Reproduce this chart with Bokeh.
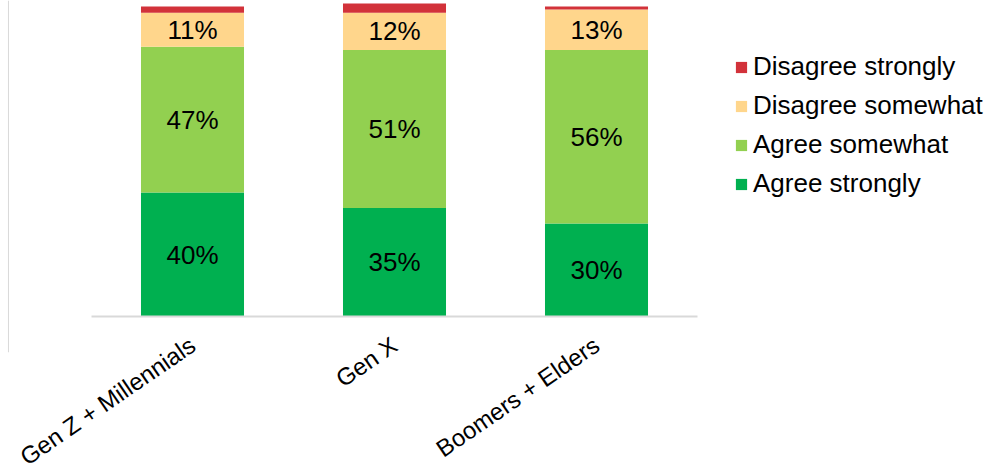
import math
from bokeh.plotting import figure
from bokeh.models import Range1d, Legend, LegendItem, Span, ColumnDataSource, LabelSet, FixedTicker
from bokeh.core.properties import value
from bokeh.embed import file_html
from bokeh.resources import INLINE

categories = ["Gen Z + Millennials", "Gen X", "Boomers + Elders"]
agree_strongly = [40, 35, 30]
agree_somewhat = [47, 51, 56]
disagree_somewhat = [11, 12, 13]
disagree_strongly = [2, 3, 1]
series_keys = ["agree_strongly", "agree_somewhat", "disagree_somewhat", "disagree_strongly"]
series_names = ["Agree strongly", "Agree somewhat", "Disagree somewhat", "Disagree strongly"]
colors = ["#00B050", "#92D050", "#FFD68C", "#D2323A"]

FONT = "Liberation Sans"

idx = list(range(len(categories)))
source = ColumnDataSource(dict(
    x=idx,
    agree_strongly=agree_strongly,
    agree_somewhat=agree_somewhat,
    disagree_somewhat=disagree_somewhat,
    disagree_strongly=disagree_strongly,
))

p = figure(
    x_range=Range1d(-0.9505, 4.0),
    y_range=Range1d(-11.6, 101.94),
    frame_width=1000, frame_height=352,
    min_border_left=0, min_border_top=0, min_border_right=0, min_border_bottom=0,
    output_backend="svg", toolbar_location=None,
)
p.outline_line_color = None
p.xgrid.visible = False
p.ygrid.visible = False
p.yaxis.visible = False

renderers = p.vbar_stack(series_keys, x="x", width=0.51, color=colors, source=source,
                         line_color=None)

# baseline
p.segment(x0=[idx[0] - 0.5], x1=[idx[-1] + 0.5], y0=[0], y1=[0],
          line_color="#D9D9D9", line_width=2)

# left thin line
p.add_layout(Span(location=-0.911, dimension="height", line_color="#D9D9D9", line_width=1))

# value labels
lab_x, lab_y, lab_t = [], [], []
for i in idx:
    base = 0
    for vals in (agree_strongly, agree_somewhat, disagree_somewhat):
        v = vals[i]
        lab_x.append(i)
        lab_y.append(base + v / 2)
        lab_t.append(f"{v}%")
        base += v
lsrc = ColumnDataSource(dict(x=lab_x, y=lab_y, t=lab_t))
p.add_layout(LabelSet(x="x", y="y", text="t", source=lsrc, text_align="center",
                      text_baseline="middle", text_font=value(FONT),
                      text_font_size="26px", text_color="#000000"))

xa = p.xaxis[0]
xa.ticker = FixedTicker(ticks=idx)
xa.major_label_overrides = {i: c for i, c in zip(idx, categories)}
xa.axis_line_color = None
xa.major_tick_line_color = None
xa.minor_tick_line_color = None
xa.major_label_orientation = math.radians(34.5)
xa.major_label_text_font = FONT
xa.major_label_text_font_size = "24px"
xa.major_label_text_color = "#000000"
xa.major_label_standoff = -16

items = [LegendItem(label=series_names[k], renderers=[renderers[k]]) for k in (3, 2, 1, 0)]
legend = Legend(items=items, location=(734, 153), orientation="vertical")
legend.border_line_color = None
legend.background_fill_alpha = 0
legend.padding = 0
legend.margin = 0
legend.glyph_width = 14
legend.glyph_height = 14
legend.label_height = 30
legend.spacing = 8
legend.label_standoff = 5
legend.label_text_font = FONT
legend.label_text_font_size = "26px"
legend.label_text_color = "#000000"
p.add_layout(legend)

open("out.html", "w").write(file_html(p, INLINE))
